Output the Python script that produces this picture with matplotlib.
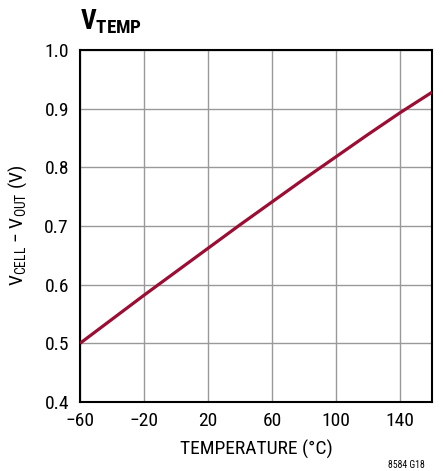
import matplotlib
matplotlib.use("Agg")
import matplotlib.pyplot as plt
from matplotlib import font_manager

temperature = [-60, -40, -20, 0, 20, 40, 60, 80, 100, 120, 140, 160]
v_diff = [0.500, 0.541, 0.582, 0.622, 0.662, 0.702, 0.741, 0.780, 0.818, 0.856, 0.893, 0.928]
x_ticks = [-60, -20, 20, 60, 100, 140]
x_tick_labels = ["\u221260", "\u221220", "20", "60", "100", "140"]
y_ticks = [0.4, 0.5, 0.6, 0.7, 0.8, 0.9, 1.0]

available = set(f.name for f in font_manager.fontManager.ttflist)
candidates = ['Liberation Sans Narrow', 'Roboto Condensed', 'Archivo Narrow', 'Arial Narrow',
              'PT Sans Narrow', 'Pragati Narrow', 'IBM Plex Sans Condensed', 'Fira Sans Condensed',
              'Encode Sans Condensed', 'Barlow Semi Condensed', 'Open Sans Condensed']
font = next((c for c in candidates if c in available), 'Liberation Sans')

plt.rcParams['font.family'] = [font, 'DejaVu Sans']
plt.rcParams['mathtext.fontset'] = 'custom'
plt.rcParams['mathtext.rm'] = font
plt.rcParams['mathtext.bf'] = font + ':bold'

W, H = 443, 471
fig = plt.figure(figsize=(W/100, H/100), dpi=100)
ax = fig.add_axes([80/W, 1-402/H, 352/W, 352/H])

ax.plot(temperature, v_diff, color='#9b0d33', lw=2.3, solid_capstyle='butt', zorder=3)
ax.set_xlim(-60, 160)
ax.set_ylim(0.4, 1.0)
ax.set_xticks(x_ticks)
ax.set_xticklabels(x_tick_labels)
ax.set_yticks(y_ticks)
ax.set_yticklabels([f"{v:.1f}" for v in y_ticks])
ax.grid(True, color='#999999', lw=1.0)
ax.tick_params(length=0, labelsize=14)
ax.tick_params(axis='x', pad=7)
ax.tick_params(axis='y', pad=8)
for s in ax.spines.values():
    s.set_linewidth(1.5)
    s.set_color('black')

ax.set_xlabel("TEMPERATURE (°C)", fontsize=14, labelpad=7)
ax.set_ylabel("V$_{\\mathregular{CELL}}$ \u2212 V$_{\\mathregular{OUT}}$ (V)", fontsize=14, labelpad=11)

fig.text(80/W, 1-22/H, r"$\mathbf{V_{TEMP}}$", fontsize=19.5, va='center', ha='left')
fig.text(425/W, 1-465/H, "8584 G18", fontsize=7, ha='right', va='center')

fig.savefig("out.png", dpi=100)
